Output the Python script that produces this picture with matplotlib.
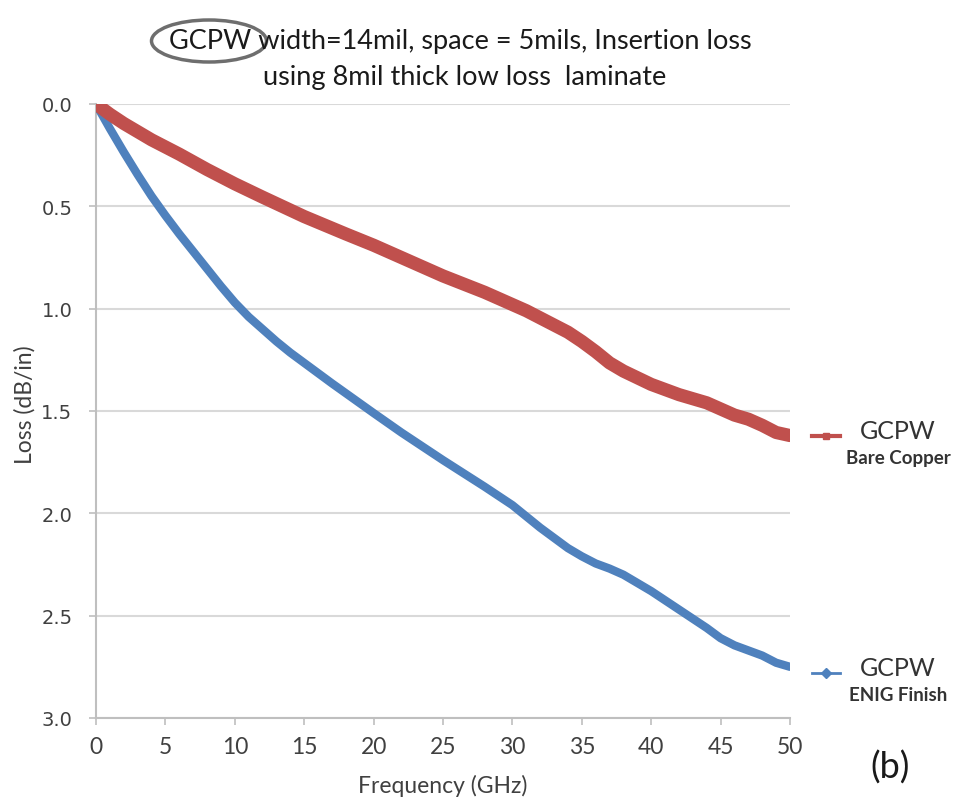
import matplotlib
matplotlib.use("Agg")
import matplotlib.pyplot as plt
from matplotlib.patches import Ellipse
from matplotlib.lines import Line2D

# Data
freq_red = [0, 1, 2, 3, 4, 5, 6, 8, 10, 12, 15, 18, 20, 22, 24, 25, 28, 30, 31,
            32, 34, 35, 36, 37, 38, 40, 42, 44, 45, 46, 47, 48, 49, 50]
loss_bare_copper = [0.0, 0.05, 0.095, 0.135, 0.175, 0.21, 0.245, 0.32, 0.39, 0.455, 0.55, 0.635, 0.69,
                    0.75, 0.81, 0.84, 0.92, 0.98, 1.01, 1.045, 1.115, 1.16, 1.21, 1.265, 1.305,
                    1.37, 1.42, 1.46, 1.49, 1.52, 1.54, 1.57, 1.605, 1.62]
freq_blue = [0, 1, 2, 3, 4, 5, 6, 7, 8, 9, 10, 11, 12, 13, 14, 15, 17, 20, 22, 25, 28, 30,
             32, 34, 35, 36, 37, 38, 40, 42, 44, 45, 46, 47, 48, 49, 50]
loss_enig = [0.0, 0.12, 0.235, 0.345, 0.45, 0.545, 0.635, 0.72, 0.805, 0.89, 0.97, 1.04, 1.10,
             1.16, 1.215, 1.265, 1.365, 1.51, 1.605, 1.74, 1.87, 1.96, 2.07, 2.17, 2.21, 2.245,
             2.27, 2.30, 2.38, 2.47, 2.56, 2.61, 2.645, 2.67, 2.695, 2.73, 2.75]
x_ticks = [0, 5, 10, 15, 20, 25, 30, 35, 40, 45, 50]
y_ticks = [0.0, 0.5, 1.0, 1.5, 2.0, 2.5, 3.0]
series_names = [("GCPW", "Bare Copper"), ("GCPW", "ENIG Finish")]
title_lines = ["GCPW width=14mil, space = 5mils, Insertion loss",
               "using 8mil thick low loss  laminate"]

RED = "#C0504D"
BLUE = "#4F81BD"
GRID = "#D9D9D9"
TXT = "#404040"
TFONT = ["Lato", "DejaVu Sans"]

fig = plt.figure(figsize=(9.73, 8.04), dpi=100)
W, H = 973, 804
ax = fig.add_axes([96 / W, 1 - 719 / H, (790 - 96) / W, (719 - 105) / H])

ax.plot(freq_blue, loss_enig, color=BLUE, lw=6.0, solid_capstyle="round", solid_joinstyle="round", zorder=3)
ax.plot(freq_red, loss_bare_copper, color=RED, lw=9.5, solid_capstyle="round", solid_joinstyle="round", zorder=4)

ax.set_xlim(0, 50)
ax.set_ylim(3.0, 0.0)
ax.set_xticks(x_ticks)
ax.set_yticks(y_ticks)
ax.set_xticklabels([str(v) for v in x_ticks], fontsize=16.5, family=TFONT, color=TXT)
ax.set_yticklabels([f"{v:.1f}" for v in y_ticks], fontsize=14, family="DejaVu Sans", color=TXT)
ax.yaxis.grid(True, color=GRID, lw=1.5)
ax.set_axisbelow(True)
for s in ["top", "right"]:
    ax.spines[s].set_visible(False)
for s in ["left", "bottom"]:
    ax.spines[s].set_color("#BFBFBF")
    ax.spines[s].set_linewidth(1.5)
ax.tick_params(axis="both", colors="#BFBFBF", length=5, width=1.2, labelcolor=TXT)
ax.tick_params(axis="y", pad=12)
ax.tick_params(axis="x", pad=8)

ax.set_xlabel("Frequency (GHz)", fontsize=16.5, family=TFONT, color=TXT, labelpad=12)
fig.text(25 / W, 1 - 405 / H, "Loss (dB/in)", fontsize=16.5, family=TFONT, color=TXT,
         rotation=90, ha="center", va="center")

# Title
fig.text(460 / W, 1 - 42 / H, title_lines[0], fontsize=19.5, family=TFONT, color="#1a1a1a",
         ha="center", va="center")
fig.text(465 / W, 1 - 78 / H, title_lines[1], fontsize=19.5, family=TFONT, color="#1a1a1a",
         ha="center", va="center")
ell = Ellipse((209 / W, 1 - 42 / H), 115 / W, 42 / H, transform=fig.transFigure,
              fill=False, edgecolor="#6e6e6e", lw=2.5)
fig.add_artist(ell)

# Legend-like labels at right
for (name1, name2), color, ymid, lw, mk in [(series_names[0], RED, 437, 3.0, "s"),
                                             (series_names[1], BLUE, 674, 2.0, "D")]:
    fig.add_artist(Line2D([812 / W, 840 / W], [1 - ymid / H, 1 - ymid / H],
                          transform=fig.transFigure, color=color, lw=lw))
    fig.add_artist(Line2D([826 / W], [1 - ymid / H], transform=fig.transFigure,
                          color=color, marker=mk, markersize=5, lw=0))
    fig.text(898 / W, 1 - (ymid - 5) / H, name1, fontsize=18, family=TFONT, color="#333333",
             ha="center", va="center")
    fig.text(898 / W, 1 - (ymid + 22) / H, name2, fontsize=13.5, family=TFONT, color="#333333",
             ha="center", va="center", fontweight="bold")

fig.text(890 / W, 1 - 768 / H, "(b)", fontsize=26, family=TFONT, color="#1a1a1a",
         ha="center", va="center")

fig.savefig("out.png", dpi=100, facecolor="white")
